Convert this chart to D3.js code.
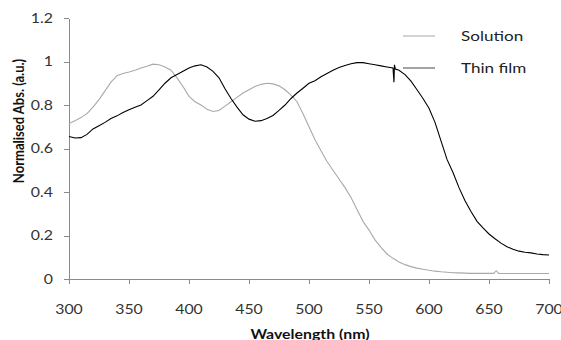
<!DOCTYPE html>
<html>
<head>
<meta charset="utf-8">
<script src="https://cdn.jsdelivr.net/npm/d3@7"></script>
<style>
  body { margin: 0; background: #fff; }
  text { font-family: Lato, "Liberation Sans", sans-serif; }
</style>
</head>
<body>
<script>
(function(){

//wavelength ticks and absorbance ticks
var xTicks = [300, 350, 400, 450, 500, 550, 600, 650, 700];
var yTicks = [0, 0.2, 0.4, 0.6, 0.8, 1, 1.2];

//solution spectrum
var solWl = [300,305,310,315,320,325,330,335,340,345,350,355,360,365,370,375,380,385,390,395,
             400,405,410,415,420,425,430,435,440,445,450,455,460,465,470,475,480,485,490,495,
             500,505,510,515,520,525,530,535,540,545,550,555,560,565,570,575,580,585,590,595,
             600,605,610,615,620,625,630,635,640,645,650,654,656,658,665,670,675,680,685,690,695,700];
var solAbs = [0.715,0.728,0.742,0.76,0.79,0.825,0.865,0.905,0.935,0.945,0.952,0.96,0.97,0.978,0.988,0.985,0.975,0.96,0.925,0.885,
              0.84,0.815,0.80,0.78,0.77,0.775,0.795,0.815,0.835,0.855,0.87,0.885,0.895,0.90,0.897,0.888,0.87,0.845,0.815,0.76,
              0.70,0.64,0.59,0.54,0.50,0.46,0.42,0.375,0.32,0.265,0.225,0.18,0.145,0.115,0.095,0.078,0.066,0.057,0.05,0.045,
              0.04,0.036,0.033,0.031,0.029,0.028,0.027,0.026,0.026,0.026,0.026,0.026,0.038,0.026,0.025,0.025,0.025,0.025,0.025,0.025,0.025,0.025];

//thin film spectrum
var filmWl = [300,305,310,315,320,325,330,335,340,345,350,355,360,365,370,375,380,385,390,395,
              400,405,410,415,420,425,430,435,440,445,450,455,460,465,470,475,480,485,490,495,
              500,505,510,515,520,525,530,535,540,545,550,555,560,565,570,570.8,571.2,572,575,580,585,590,595,
              600,605,610,615,620,625,630,635,640,645,650,655,660,665,670,675,680,685,690,695,700];
var filmAbs = [0.655,0.648,0.65,0.665,0.69,0.705,0.72,0.738,0.75,0.765,0.778,0.79,0.80,0.82,0.84,0.87,0.90,0.925,0.94,0.955,
               0.97,0.98,0.985,0.975,0.955,0.925,0.875,0.83,0.79,0.755,0.735,0.725,0.728,0.738,0.752,0.775,0.80,0.83,0.855,0.877,
               0.90,0.912,0.93,0.945,0.96,0.972,0.982,0.99,0.995,0.995,0.99,0.985,0.98,0.975,0.97,0.905,0.985,0.965,0.96,0.94,0.91,0.87,0.83,
               0.785,0.72,0.635,0.55,0.49,0.42,0.36,0.31,0.265,0.235,0.207,0.185,0.165,0.148,0.137,0.128,0.123,0.12,0.115,0.112,0.11];

//legend entries
var seriesNames = ["Solution", "Thin film"];
var seriesColors = ["#a9a9a9", "#000000"];

//frame
var width = 561,
    height = 340;
var plot = {left: 69, right: 549, top: 18, bottom: 279};
var sx = 1.22; //picture is stretched horizontally

var svg = d3.select("body")
    .append("svg")
    .attr("width", width)
    .attr("height", height);

var x = d3.scaleLinear().domain([300, 700]).range([plot.left, plot.right]);
var y = d3.scaleLinear().domain([0, 1.2]).range([plot.bottom, plot.top]);

//stretched text helper
function label(px, py, str, size, anchor, weight, color){
    return svg.append("text")
        .attr("transform", "translate(" + px + "," + py + ") scale(" + sx + ",1)")
        .attr("text-anchor", anchor)
        .style("font-size", size + "px")
        .style("font-weight", weight)
        .style("fill", color)
        .text(str);
}

//axes
var xAxis = svg.append("g")
    .attr("transform", "translate(0," + plot.bottom + ")")
    .call(d3.axisBottom(x).tickValues(xTicks).tickSize(5).tickSizeOuter(0).tickFormat(""));
var yAxis = svg.append("g")
    .attr("transform", "translate(" + plot.left + ",0)")
    .call(d3.axisLeft(y).tickValues(yTicks).tickSize(5).tickSizeOuter(0).tickFormat(""));
svg.selectAll(".domain, .tick line")
    .attr("stroke", "#8a8a8a")
    .attr("shape-rendering", "crispEdges");

//tick labels
xTicks.forEach(function(t){
    label(x(t), 314, t, 13, "middle", "normal", "#333");
});
yTicks.forEach(function(t){
    label(53, y(t) + 4.5, t, 13, "end", "normal", "#333");
});

//axis titles
label(310, 339, "Wavelength (nm)", 13, "middle", "bold", "#111");
svg.append("text")
    .attr("transform", "translate(24,121) scale(" + sx + ",1) rotate(-90)")
    .attr("text-anchor", "middle")
    .style("font-size", "13px")
    .style("font-weight", "bold")
    .style("fill", "#111")
    .text("Normalised Abs. (a.u.)");

//spectra
var line = d3.line()
    .x(function(d){ return x(d[0]); })
    .y(function(d){ return y(d[1]); });

var series = [d3.zip(solWl, solAbs), d3.zip(filmWl, filmAbs)];
svg.selectAll(".spectrum")
    .data(series)
    .enter()
    .append("path")
    .attr("class", "spectrum")
    .attr("d", line)
    .attr("fill", "none")
    .attr("stroke", function(d, i){ return seriesColors[i]; })
    .attr("stroke-width", 1.1);

//legend
seriesNames.forEach(function(name, i){
    var ly = 36 + i * 32;
    svg.append("line")
        .attr("x1", 403).attr("x2", 435)
        .attr("y1", ly).attr("y2", ly)
        .attr("stroke", i == 0 ? "#b5b5b5" : "#666")
        .attr("stroke-width", 1.2);
    label(461, ly + 5, name, 14, "start", "normal", "#222");
});

})();
</script>
</body>
</html>
